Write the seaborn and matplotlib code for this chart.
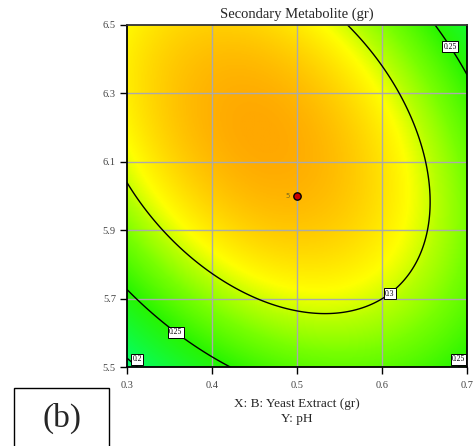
import numpy as np
import matplotlib
matplotlib.use("Agg")
import matplotlib.pyplot as plt
import seaborn as sns
from matplotlib.colors import LinearSegmentedColormap
from matplotlib.patches import Rectangle

# Quadratic model in coded factors: A = (B - 0.5)/0.2, B = (pH - 6.0)/0.5
# terms: intercept, A, B, AB, A^2, B^2
coef_names = ["Intercept", "A", "B", "AB", "A2", "B2"]
coef_values = [0.3361, -0.0081, 0.0245, -0.0351, -0.0486, -0.0435]

x_range = [0.3, 0.7]
y_range = [5.5, 6.5]
x_ticks = [0.3, 0.4, 0.5, 0.6, 0.7]
y_ticks = [5.5, 5.7, 5.9, 6.1, 6.3, 6.5]
contour_levels = [0.2, 0.25, 0.3]

center_x = [0.5]
center_y = [6.0]
center_runs = ["5"]

# colour ramp (value -> colour), as in the design software
ramp_values = [0.1926, 0.25, 0.28, 0.296, 0.31, 0.3415]
ramp_colors = ["#00ff6e", "#28f500", "#78ff00", "#b4ff00", "#ffff00", "#ffa800"]

sns.set_style("white")
plt.rcParams["font.family"] = ["Liberation Serif", "DejaVu Serif"]

c = dict(zip(coef_names, coef_values))
X, Y = np.meshgrid(np.linspace(*x_range, 300), np.linspace(*y_range, 300))
A = (X - 0.5) / 0.2
B = (Y - 6.0) / 0.5
Z = (c["Intercept"] + c["A"] * A + c["B"] * B + c["AB"] * A * B
     + c["A2"] * A ** 2 + c["B2"] * B ** 2)

vmin, vmax = ramp_values[0], ramp_values[-1]
nodes = [(v - vmin) / (vmax - vmin) for v in ramp_values]
cmap = LinearSegmentedColormap.from_list("de", list(zip(nodes, ramp_colors)))

fig = plt.figure(figsize=(4.73, 4.46), dpi=100)
ax = fig.add_axes([0.2685, 0.1771, 0.7188, 0.767])

ax.imshow(Z, origin="lower", extent=[*x_range, *y_range], cmap=cmap,
          vmin=vmin, vmax=vmax, aspect="auto", interpolation="bilinear", zorder=0)

for xv in x_ticks[1:-1]:
    ax.axvline(xv, color="#aaaaaa", lw=1, zorder=1)
for yv in y_ticks[1:-1]:
    ax.axhline(yv, color="#aaaaaa", lw=1, zorder=1)

cs = ax.contour(X, Y, Z, levels=contour_levels, colors="black", linewidths=1, zorder=2)
labels = ax.clabel(cs, inline=False, fontsize=5.5, fmt=lambda v: f"{v:g}",
                   manual=[(0.307, 5.52), (0.36, 5.61), (0.682, 6.44),
                           (0.69, 5.515), (0.606, 5.725)])
for t in labels:
    t.set_rotation(0)
    t.set_bbox(dict(facecolor="white", edgecolor="black", pad=0.8, lw=0.7))
    t.set_zorder(4)
    x0, y0 = t.get_position()
    # keep the small boxes inside the frame, as in the original
    t.set_position((min(max(x0, 0.312), 0.69), max(y0, 5.522)))

sns.scatterplot(x=center_x, y=center_y, ax=ax, color="#cc0000", edgecolor="black",
                linewidth=1, s=28, zorder=5, legend=False)
for xv, yv, lab in zip(center_x, center_y, center_runs):
    ax.annotate(lab, (xv, yv), xytext=(-7, 0), textcoords="offset points",
                ha="center", va="center", fontsize=5, color="#7a6a20",
                family="DejaVu Sans")

ax.set_xlim(*x_range)
ax.set_ylim(*y_range)
ax.set_xticks(x_ticks)
ax.set_xticklabels([f"{v:g}" for v in x_ticks])
ax.set_yticks(y_ticks)
ax.set_yticklabels([f"{v:g}" for v in y_ticks])
ax.tick_params(axis="both", which="major", direction="out", length=5, width=1,
               labelsize=7.5, labelcolor="#444444", color="black",
               left=True, bottom=True)
ax.tick_params(axis="x", pad=5)
ax.tick_params(axis="y", pad=3)
for side in ["left", "bottom", "right"]:
    ax.spines[side].set_color("black")
    ax.spines[side].set_linewidth(1.3)
ax.spines["top"].set_color("#333333")
ax.spines["top"].set_linewidth(1.3)

ax.set_title("Secondary Metabolite (gr)", fontsize=10.5, pad=5)
ax.set_xlabel("X: B: Yeast Extract (gr)\nY: pH", fontsize=9.5, labelpad=6,
              linespacing=1.3)

fig.patches.append(Rectangle((0.0296, -0.01), 0.2008, 0.14, transform=fig.transFigure,
                             facecolor="white", edgecolor="black", lw=1))
fig.text(0.131, 0.063, "(b)", fontsize=24, ha="center", va="center")

fig.savefig("out.png")
